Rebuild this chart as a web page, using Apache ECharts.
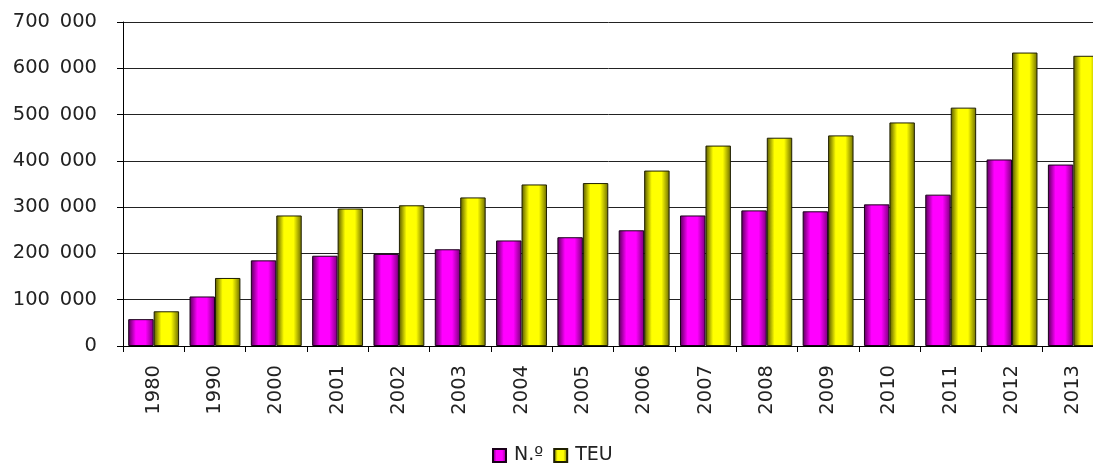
<!DOCTYPE html>
<html>
<head>
<meta charset="utf-8">
<script src="https://cdn.jsdelivr.net/npm/echarts@6/dist/echarts.min.js"></script>
<style>
  html, body { margin: 0; padding: 0; background: #fff; overflow: hidden; }
  #main { width: 1093px; height: 468px; }
</style>
</head>
<body>
<div id="main"></div>
<script>
// anos
const years = ['1980', '1990', '2000', '2001', '2002', '2003', '2004', '2005',
  '2006', '2007', '2008', '2009', '2010', '2011', '2012', '2013'];
// n.º de navios
const numero = [58000, 107000, 185000, 195000, 199000, 209000, 228000, 235000,
  250000, 282000, 293000, 291000, 306000, 327000, 403000, 392000];
// contentores (TEU)
const teu = [75000, 147000, 282000, 297000, 304000, 321000, 349000, 352000,
  379000, 433000, 450000, 455000, 483000, 515000, 634000, 627000];
const seriesNames = ['N.º', 'TEU'];

const font = 'DejaVu Sans';

function fmt(v) {
  // separador de milhares com espaço
  return String(v).replace(/\B(?=(\d{3})+(?!\d))/g, '\u2002');
}

function grad(dark, bright, dark2) {
  return new echarts.graphic.LinearGradient(0, 0, 1, 0, [
    { offset: 0, color: dark },
    { offset: 0.3, color: bright },
    { offset: 0.68, color: bright },
    { offset: 1, color: dark2 }
  ]);
}

const myChart = echarts.init(document.getElementById('main'));
const option = {
  animation: false,
  backgroundColor: '#fff',
  // a área do gráfico passa além da margem direita (última barra cortada)
  grid: { left: 123, top: 22, width: 981, bottom: 122, containLabel: false, outerBoundsMode: 'none' },
  legend: {
    data: seriesNames,
    top: 446,
    left: 492,
    padding: 0,
    icon: 'rect',
    itemWidth: 13,
    itemHeight: 13,
    itemGap: 10,
    textStyle: { fontFamily: font, fontSize: 19, color: '#222', padding: [0, 0, 0, 3] }
  },
  xAxis: {
    type: 'category',
    data: years,
    axisLine: { lineStyle: { color: '#000', width: 1 } },
    axisTick: { show: true, length: 6, lineStyle: { color: '#000' } },
    axisLabel: { rotate: 90, margin: 19, fontFamily: font, fontSize: 19.5, color: '#222' }
  },
  yAxis: {
    type: 'value',
    min: 0,
    max: 700000,
    interval: 100000,
    axisLine: { show: true, lineStyle: { color: '#000', width: 1 } },
    axisTick: { show: true, length: 6, lineStyle: { color: '#000' } },
    splitLine: { lineStyle: { color: '#222', width: 1 } },
    axisLabel: { margin: 26, fontFamily: font, fontSize: 19.5, color: '#222', formatter: fmt }
  },
  series: [
    {
      name: seriesNames[0],
      type: 'bar',
      data: numero,
      barGap: '0%',
      barCategoryGap: '17%',
      itemStyle: {
        color: grad('#550055', '#ff00ff', '#770077'),
        borderColor: '#1a001a',
        borderWidth: 1
      }
    },
    {
      name: seriesNames[1],
      type: 'bar',
      data: teu,
      barGap: '0%',
      barCategoryGap: '17%',
      itemStyle: {
        color: grad('#555500', '#ffff00', '#6a6a00'),
        borderColor: '#1f1f00',
        borderWidth: 1
      }
    }
  ]
};
myChart.setOption(option);
</script>
</body>
</html>
